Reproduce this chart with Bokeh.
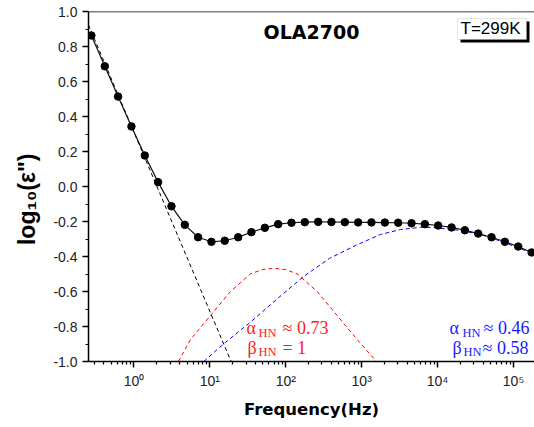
import math
from bokeh.plotting import figure
from bokeh.models import (FixedTicker, PrintfTickFormatter, CustomJSTickFormatter,
                          Label, Span, BoxAnnotation, Range1d)
from bokeh.embed import file_html
from bokeh.resources import INLINE

# ---------------- data ----------------
freq = [0.275, 0.413, 0.618, 0.927, 1.39, 2.08, 3.12, 4.68, 7.00, 10.5, 15.7,
        23.6, 35.3, 53.0, 79.4, 119, 178, 267, 400, 600, 899, 1346, 2018, 3027,
        4539, 6792, 10186, 15276, 22856, 34277, 51404, 76913, 115345, 172982]
log_eps = [0.863, 0.687, 0.514, 0.343, 0.177, 0.025, -0.113, -0.219, -0.290,
           -0.316, -0.310, -0.290, -0.261, -0.236, -0.215, -0.207, -0.204,
           -0.202, -0.203, -0.204, -0.205, -0.205, -0.206, -0.207, -0.210,
           -0.215, -0.223, -0.234, -0.250, -0.269, -0.290, -0.316, -0.343, -0.377]

# conductivity contribution (black dashed)
cond_f = [0.252, 19.05]
cond_v = [0.923, -1.0]

# HN process 1 (red dashed)
hn1_f = [3.85, 5.55, 10.2, 18.7, 34.3, 49.0, 69.5, 100, 141, 259, 475, 873, 1567]
hn1_v = [-1.0, -0.875, -0.737, -0.600, -0.499, -0.475, -0.467, -0.475, -0.499,
         -0.600, -0.737, -0.875, -1.0]

# HN process 2 (blue dashed)
hn2_f = [8.3, 15.2, 34.3, 77.1, 173, 380, 828, 1770, 3243, 5957, 8913, 19953,
         36728, 67453, 123595, 189234]
hn2_v = [-1.0, -0.899, -0.775, -0.642, -0.513, -0.410, -0.337, -0.274, -0.246,
         -0.233, -0.234, -0.251, -0.274, -0.312, -0.356, -0.385]

x_major = [1, 10, 100, 1000, 10000, 100000]
x_minor = [m * 10 ** e for e in range(-1, 6) for m in range(2, 10)]
y_major = [round(-1 + 0.2 * i, 1) for i in range(11)]
y_minor = [round(-0.9 + 0.2 * i, 1) for i in range(10)]

title_text = "OLA2700"
temp_text = "T=299K"

# ---------------- layout helpers ----------------
X0, X1 = 0.252, 1.89e5
Y0, Y1 = -1.0, 1.0
FL, FR, FT, FB = 88, 534, 11, 361   # frame edges in picture pixels
W, H = 534, 425
LBL_DY = -6   # Label baseline correction (px)


def fx(px):
    a, b = math.log10(X0), math.log10(X1)
    return 10 ** (a + (px - FL) / (FR - FL) * (b - a))


def vy(py):
    return Y1 - (py - FT) / (FB - FT) * (Y1 - Y0)


p = figure(width=W, height=H, x_axis_type="log",
           x_range=Range1d(X0, X1), y_range=Range1d(Y0, Y1),
           output_backend="svg", toolbar_location=None,
           min_border_left=FL, min_border_right=W - FR, min_border_top=FT,
           min_border_bottom=H - FB)
p.outline_line_color = None
p.grid.visible = False
p.background_fill_color = "white"
p.border_fill_color = "white"

p.add_layout(Span(location=Y1, dimension="width", line_color="black", line_width=1.5))

# ---------------- axes ----------------
p.xaxis.ticker = FixedTicker(ticks=x_major, minor_ticks=x_minor)
p.xaxis.formatter = CustomJSTickFormatter(code="""
const sup = {"0":"\u2070","1":"\u00b9","2":"\u00b2","3":"\u00b3","4":"\u2074","5":"\u2075","6":"\u2076","-":"\u207b"};
const e = Math.round(Math.log10(tick));
return "10" + String(e).split("").map(c => sup[c]).join("");
""")
p.yaxis.ticker = FixedTicker(ticks=y_major, minor_ticks=y_minor)
p.yaxis.formatter = PrintfTickFormatter(format="%.1f")

for ax in (p.xaxis[0], p.yaxis[0]):
    ax.axis_line_width = 1.5
    ax.axis_line_color = "black"
    ax.major_tick_line_width = 1.5
    ax.minor_tick_line_width = 1.2
    ax.major_tick_out = 6
    ax.major_tick_in = 0
    ax.minor_tick_out = 3
    ax.minor_tick_in = 0
    ax.major_label_text_font = "Liberation Sans"
    ax.major_label_text_font_size = "14px"
    ax.major_label_text_color = "#222222"
    ax.major_label_standoff = 5
    ax.axis_label_text_font = "DejaVu Sans"
    ax.axis_label_text_font_style = "bold"
    ax.axis_label_text_color = "black"

p.xaxis.axis_label = "Frequency(Hz)"
p.xaxis.axis_label_text_font_size = "16.5px"
p.xaxis.axis_label_standoff = 8
p.yaxis.axis_label = "log\u2081\u2080(\u03b5\")\u00a0\u00a0\u00a0\u00a0"
p.yaxis.axis_label_text_font = "Liberation Sans"
p.yaxis.axis_label_text_font_size = "23px"
p.yaxis.axis_label_standoff = 10

# ---------------- curves ----------------
dash = "4 3"
p.line(cond_f, cond_v, line_color="black", line_width=1, line_dash=dash)
p.line(hn1_f, hn1_v, line_color="#ff0000", line_width=1, line_dash=dash)
p.line(hn2_f, hn2_v, line_color="#0000ff", line_width=1, line_dash=dash)
p.line(freq, log_eps, line_color="#111111", line_width=1.2)
p.scatter(freq, log_eps, marker="circle", size=7.5, fill_color="black", line_color="black")

# ---------------- annotations ----------------
p.add_layout(Label(x=fx(311), y=vy(37.5 + LBL_DY), text=title_text, text_align="center",
                   text_baseline="alphabetic", text_font="DejaVu Sans",
                   text_font_style="bold", text_font_size="19px", text_color="black"))

p.add_layout(BoxAnnotation(left=fx(460), right=fx(529), top=vy(21), bottom=vy(42),
                           fill_color="black", fill_alpha=1.0, line_color=None))
p.add_layout(BoxAnnotation(left=fx(457), right=fx(526), top=vy(18), bottom=vy(39),
                           fill_color="white", fill_alpha=1.0, line_color="#aaaaaa",
                           line_width=1))
p.add_layout(Label(x=fx(460), y=vy(33.5 + LBL_DY), text=temp_text, text_align="left",
                   text_baseline="alphabetic", text_font="Liberation Sans",
                   text_font_size="17px", text_color="black"))


def add_txt(px, py, txt, color, size):
    p.add_layout(Label(x=fx(px), y=vy(py + LBL_DY), text=txt, text_align="left",
                       text_baseline="alphabetic", text_font="Liberation Serif",
                       text_font_size=size, text_color=color))


RED, BLUE = "#ff1a1a", "#1a1aff"
add_txt(246, 333, "\u03b1", RED, "18px")
add_txt(258, 338.5, "HN", RED, "12.5px")
add_txt(282, 333, "\u2248 0.73", RED, "18px")
add_txt(247, 353, "\u03b2", RED, "18px")
add_txt(258, 357.5, "HN", RED, "12.5px")
add_txt(282, 353, "= 1", RED, "18px")

add_txt(449, 333, "\u03b1", BLUE, "18px")
add_txt(462, 338.5, "HN", BLUE, "12.5px")
add_txt(483, 333, "\u2248 0.46", BLUE, "18px")
add_txt(452, 353, "\u03b2", BLUE, "18px")
add_txt(463, 357.5, "HN", BLUE, "12.5px")
add_txt(482, 353, "\u2248 0.58", BLUE, "18px")

open("out.html", "w").write(file_html(p, INLINE))
